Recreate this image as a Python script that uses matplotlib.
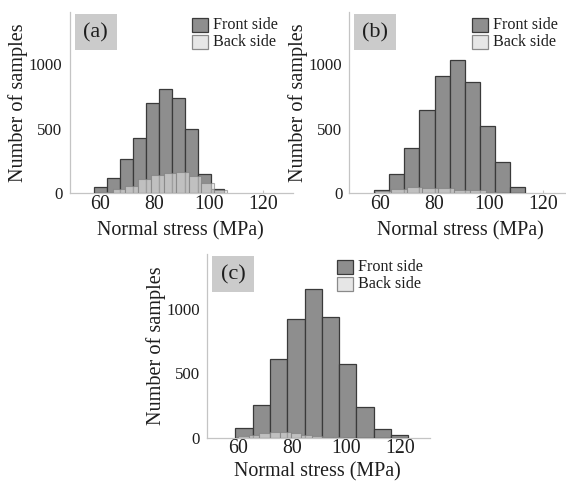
import numpy as np
import matplotlib
matplotlib.use("Agg")
import matplotlib.pyplot as plt
from matplotlib.patches import Rectangle

plt.rcParams['font.family'] = ['Liberation Serif', 'DejaVu Serif']

# ---------------- data ----------------
panel_labels = ["(a)", "(b)", "(c)"]
legend_labels = ["Front side", "Back side"]
x_ticks = [60, 80, 100, 120]
y_ticks = [0, 500, 1000]
x_label = "Normal stress (MPa)"
y_label = "Number of samples"

a_front_edges = [57.7, 62.5, 67.3, 72.1, 76.9, 81.7, 86.5, 91.3, 96.1, 100.9, 105.7]
a_front_counts = [45, 122, 266, 430, 698, 812, 742, 502, 151, 34]
a_back_edges = [59.9, 64.6, 69.2, 73.9, 78.6, 83.3, 87.9, 92.6, 97.3, 101.9, 106.6]
a_back_counts = [10, 30, 58, 113, 144, 160, 168, 136, 78, 23]

b_front_edges = [57.7, 63.3, 68.8, 74.4, 80.0, 85.6, 91.1, 96.7, 102.3, 107.8, 113.4]
b_front_counts = [26, 150, 349, 646, 912, 1034, 860, 525, 245, 47]
b_back_edges = [58.0, 63.8, 69.7, 75.5, 81.4, 87.2, 93.0, 98.9, 104.7, 110.6, 116.4]
b_back_counts = [21, 31, 46, 38, 39, 22, 24, 11, 5, 4]

c_front_edges = [59.0, 65.4, 71.8, 78.2, 84.6, 91.0, 97.3, 103.7, 110.1, 116.5, 122.9]
c_front_counts = [73, 255, 613, 925, 1161, 943, 571, 242, 68, 18]
c_back_edges = [60.2, 64.1, 67.9, 71.8, 75.7, 79.6, 83.4, 87.3, 91.2, 95.0, 98.9]
c_back_counts = [13, 21, 39, 42, 44, 34, 21, 10, 5, 3]

# ---------------- layout (pixels) ----------------
W, H, DPI = 566, 482, 100
fig = plt.figure(figsize=(W / DPI, H / DPI), dpi=DPI)

FRONT_FC = '#8e8e8e'
FRONT_EC = '#3a3a3a'
BACK_FC = '#e2e2e2'
BACK_EC = '#7a7a7a'
AXIS_C = '#c4c4c4'
TXT_C = '#1e1e1e'

panels = [
    dict(left=69.5, top=12, bottom=193.3, xlim=(48.6, 131.0), ytop=1405, xl_gap=27.7,
         fe=a_front_edges, fc=a_front_counts, be=a_back_edges, bc=a_back_counts, ldx=122.2),
    dict(left=349.5, top=12, bottom=193.3, xlim=(48.6, 128.4), ytop=1405, xl_gap=27.7,
         fe=b_front_edges, fc=b_front_counts, be=b_back_edges, bc=b_back_counts, ldx=122.2),
    dict(left=207.0, top=254, bottom=437.7, xlim=(48.6, 131.0), ytop=1430, xl_gap=24.5,
         fe=c_front_edges, fc=c_front_counts, be=c_back_edges, bc=c_back_counts, ldx=129.7),
]
K = 2.71  # px per MPa

for p, lab in zip(panels, panel_labels):
    w_px = (p['xlim'][1] - p['xlim'][0]) * K
    h_px = p['bottom'] - p['top']
    ax = fig.add_axes([p['left'] / W, (H - p['bottom']) / H, w_px / W, h_px / H])
    ax.set_xlim(*p['xlim'])
    ax.set_ylim(0, p['ytop'])

    fe = np.array(p['fe'])
    be = np.array(p['be'])
    ax.bar(fe[:-1], p['fc'], width=np.diff(fe), align='edge',
           facecolor=FRONT_FC, edgecolor=FRONT_EC, linewidth=0.9, zorder=2)
    ax.bar(be[:-1], p['bc'], width=np.diff(be), align='edge',
           facecolor=BACK_FC, edgecolor=BACK_EC, linewidth=0.8, alpha=0.6, zorder=3)

    for s in ['top', 'right']:
        ax.spines[s].set_visible(False)
    for s in ['left', 'bottom']:
        ax.spines[s].set_color(AXIS_C)
        ax.spines[s].set_linewidth(0.9)
        ax.spines[s].set_zorder(1)

    ax.set_xticks(x_ticks)
    ax.set_yticks(y_ticks)
    ax.tick_params(axis='x', direction='in', length=2, color=AXIS_C,
                   labelsize=14.3, pad=1.0, labelcolor=TXT_C)
    ax.tick_params(axis='y', direction='in', length=0, color=AXIS_C,
                   labelsize=12.2, pad=5.0, labelcolor=TXT_C)

    ax.set_xlabel(x_label, fontsize=14.4, color=TXT_C)
    ax.xaxis.set_label_coords((180 - 69.5) / w_px, -p['xl_gap'] / h_px)
    ax.set_ylabel(y_label, fontsize=14.6, color=TXT_C)
    ax.yaxis.set_label_coords(-(69.5 - 28) / w_px, 0.5)

    def fx(dx):
        return dx / w_px

    def fy(dy):
        return 1 - dy / h_px

    # panel tag box
    ax.add_patch(Rectangle((fx(5), fy(38)), fx(42), 36 / h_px, transform=ax.transAxes,
                           facecolor='#cbcbcb', edgecolor='none', zorder=4, clip_on=False))
    ax.text(fx(26), fy(20.5), lab, transform=ax.transAxes, ha='center', va='center',
            fontsize=16, color=TXT_C, zorder=5)

    # legend
    ldx = p['ldx']
    for i, (lt, fcol, ecol) in enumerate([(legend_labels[0], FRONT_FC, FRONT_EC),
                                           (legend_labels[1], '#e6e6e6', '#8a8a8a')]):
        y0 = 6.3 + i * 16.8
        ax.add_patch(Rectangle((fx(ldx), fy(y0 + 13.4)), fx(16.6), 13.4 / h_px,
                               transform=ax.transAxes, facecolor=fcol, edgecolor=ecol,
                               linewidth=0.9, zorder=4, clip_on=False))
        ax.text(fx(ldx + 21.5), fy(y0 + 6.7), lt, transform=ax.transAxes,
                ha='left', va='center', fontsize=11.6, color=TXT_C, zorder=5)

fig.savefig("out.png", dpi=DPI)
